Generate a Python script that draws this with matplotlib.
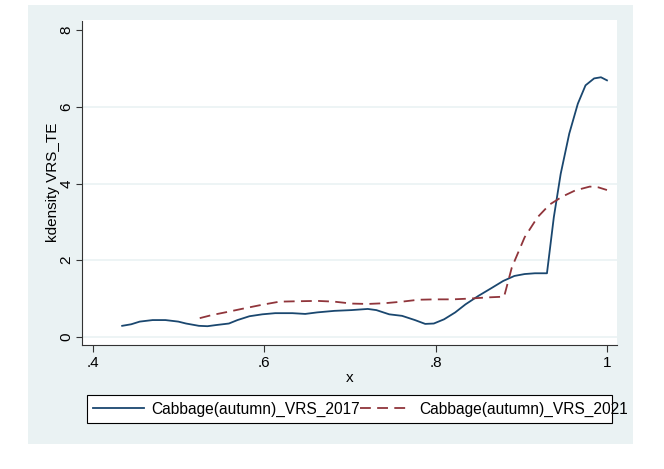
import numpy as np
import matplotlib.pyplot as plt
from matplotlib.patches import Rectangle

plt.rcParams['font.family'] = ['Liberation Sans', 'DejaVu Sans']

# kernel density, 2017
x17 = [0.4345, 0.445, 0.455, 0.470, 0.485, 0.500, 0.509, 0.524, 0.534, 0.544,
       0.559, 0.569, 0.583, 0.598, 0.613, 0.633, 0.648, 0.662, 0.682, 0.702,
       0.721, 0.731, 0.746, 0.761, 0.776, 0.788, 0.798, 0.810, 0.823, 0.835,
       0.850, 0.865, 0.879, 0.892, 0.904, 0.916, 0.930, 0.938, 0.946, 0.956,
       0.966, 0.975, 0.985, 0.993, 1.000]
y17 = [0.29, 0.33, 0.40, 0.44, 0.44, 0.40, 0.35, 0.29, 0.28, 0.31,
       0.35, 0.44, 0.54, 0.59, 0.62, 0.62, 0.60, 0.64, 0.68, 0.70,
       0.73, 0.70, 0.59, 0.55, 0.44, 0.34, 0.35, 0.46, 0.64, 0.85,
       1.07, 1.27, 1.46, 1.59, 1.64, 1.66, 1.66, 3.12, 4.25, 5.30,
       6.08, 6.56, 6.74, 6.77, 6.69]

# kernel density, 2021
x21 = [0.525, 0.539, 0.559, 0.578, 0.598, 0.618, 0.638, 0.662, 0.682, 0.702,
       0.721, 0.741, 0.761, 0.780, 0.800, 0.820, 0.840, 0.860, 0.880, 0.889,
       0.904, 0.919, 0.933, 0.948, 0.963, 0.980, 0.990, 1.000]
y21 = [0.49, 0.57, 0.66, 0.75, 0.84, 0.92, 0.93, 0.94, 0.92, 0.87,
       0.86, 0.88, 0.92, 0.97, 0.98, 0.98, 1.00, 1.03, 1.05, 1.81,
       2.60, 3.12, 3.45, 3.66, 3.82, 3.92, 3.90, 3.83]

xticks = [0.4, 0.6, 0.8, 1.0]
xticklabels = ['.4', '.6', '.8', '1']
yticks = [0, 2, 4, 6, 8]

bg = '#EAF2F3'
navy = '#1A476F'
maroon = '#90353B'
W, H = 664, 469

fig = plt.figure(figsize=(6.64, 4.69), dpi=100)
fig.patches.append(Rectangle((28/W, 1-444/H), (633-28)/W, (444-5)/H,
                             transform=fig.transFigure, facecolor=bg,
                             edgecolor='none', zorder=-10))
# legend box (text runs past it, as in the original)
fig.patches.append(Rectangle((87.3/W, 1-423/H), (612-87.3)/W, (423-395.3)/H,
                             transform=fig.transFigure, facecolor='white',
                             edgecolor='black', lw=0.8, zorder=-5))

ax = fig.add_axes([82.3/W, 1-345/H, (617-82.3)/W, (345-20.5)/H])
ax.set_facecolor('white')

for g in [0, 2, 4, 6]:
    ax.axhline(g, color=bg, lw=1.2, zorder=1)

ax.plot(x17, y17, color=navy, lw=1.3, label='Cabbage(autumn)_VRS_2017', zorder=3)
ax.plot(x21, y21, color=maroon, lw=1.3, dashes=(6, 3.5),
        label='Cabbage(autumn)_VRS_2021', zorder=3)

ax.set_xlim(0.388, 1.0117)
ax.set_ylim(-0.21, 8.25)
ax.set_xticks(xticks)
ax.set_xticklabels(xticklabels)
ax.set_yticks(yticks)
ax.tick_params(axis='both', labelsize=11, color='#333333', width=0.8)
ax.tick_params(axis='x', length=5, pad=3)
ax.tick_params(axis='y', length=4.5, pad=2, labelrotation=90)
for t in ax.get_yticklabels():
    t.set_va('center')

for s in ['top', 'right']:
    ax.spines[s].set_visible(False)
for s in ['left', 'bottom']:
    ax.spines[s].set_color('#333333')
    ax.spines[s].set_linewidth(0.8)

fig.text(53/W, 1-182.5/H, 'kdensity VRS_TE', rotation=90,
         ha='center', va='center', fontsize=11)
fig.text(349.7/W, 1-378/H, 'x', ha='center', va='center', fontsize=11)

fs = 11.2
fpx = fs * 100 / 72
ax.legend(loc='center left', bbox_to_anchor=(87.3/W, 1-409/H),
          bbox_transform=fig.transFigure, ncol=2, fontsize=fs, frameon=False,
          handlelength=51/fpx, handletextpad=7.7/fpx, columnspacing=0,
          borderpad=(93-87.3)/fpx, borderaxespad=0)

fig.savefig('out.png', dpi=100, facecolor='white')
